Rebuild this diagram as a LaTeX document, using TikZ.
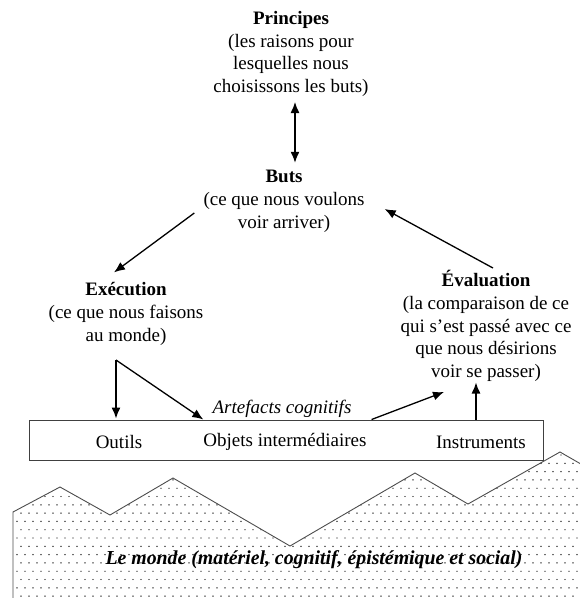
\documentclass[tikz,border=0pt]{standalone}
\usepackage{fontspec}
\setmainfont{Liberation Serif}
\usetikzlibrary{arrows.meta}
\begin{document}
\begin{tikzpicture}[x=1pt,y=-1pt,
    every node/.style={font=\fontsize{19}{22.8}\selectfont, inner sep=0pt, align=center},
    arr/.style={-{Latex[length=11pt,width=9pt]}, line width=1.3pt},
    dbl/.style={{Latex[length=11pt,width=9pt]}-{Latex[length=11pt,width=9pt]}, line width=1.3pt}]
    \useasboundingbox (0,0) rectangle (580,598);
    % le monde, en pointilles
    \begin{scope}
        \clip (13,600) -- (13,512) -- (60,487) -- (110,515) -- (173,478) -- (290,546) -- (415,473) -- (468,504) -- (560,452) -- (600,475) -- (600,600) -- cycle;
        \foreach \j in {0,...,18} {
            \foreach \i in {0,...,72} {
                \fill ({17+8*\i+4*mod(\j,2)},{455+8.3*\j}) circle (0.7);
            }
        }
    \end{scope}
    \draw[line width=0.9pt, black!70] (13,600) -- (13,512) -- (60,487) -- (110,515) -- (173,478) -- (290,546) -- (415,473) -- (468,504) -- (560,452) -- (600,475);
    \node (monde) at (314,560) {\fontsize{19.8}{22.8}\selectfont\bfseries\itshape Le monde (matériel, cognitif, épistémique et social)};
    % les quatre blocs
    \node (principes) at (291,54) {\textbf{Principes}\\(les raisons pour\\lesquelles nous\\choisissons les buts)};
    \node (buts) at (284,201) {\textbf{Buts}\\(ce que nous voulons\\voir arriver)};
    \node (execution) at (126,314) {\textbf{Exécution}\\(ce que nous faisons\\au monde)};
    \node (evaluation) at (486,326) {\textbf{Évaluation}\\(la comparaison de ce\\qui s’est passé avec ce\\que nous désirions\\voir se passer)};
    % artefacts
    \node[draw=black!75, line width=1pt, minimum width=514, minimum height=40] (artefacts) at (286,440) {};
    \node (outils) at (119,442) {Outils};
    \node (objets) at (285,442) {Objets intermédiaires};
    \node (instruments) at (481,442) {Instruments};
    \node (cognitifs) at (282,409) {\itshape Artefacts cognitifs};
    % fleches
    \draw[dbl, shorten >=7pt, shorten <=5pt] ([xshift=4pt]principes.south) -- ([xshift=4pt]principes.south |- buts.north);
    \draw[arr] ([shift={(-9,12)}]buts.west) -- ([shift={(-12,-10)}]execution.north);
    \draw[arr] ([shift={(7,-2)}]evaluation.north) -- ([shift={(20,8)}]buts.east);
    \coordinate (coude) at (116,360);
    \draw[arr, shorten >=1pt] (coude) -- (coude |- artefacts.north);
    \draw[arr] (coude) -- (objets.west |- artefacts.north);
    \draw[arr] ([xshift=20pt]cognitifs.east |- artefacts.north) -- ([shift={(-42,10)}]evaluation.south);
    \draw[arr] ([xshift=-5pt]instruments.north |- artefacts.north) -- ++(0,-37);
\end{tikzpicture}
\end{document}
